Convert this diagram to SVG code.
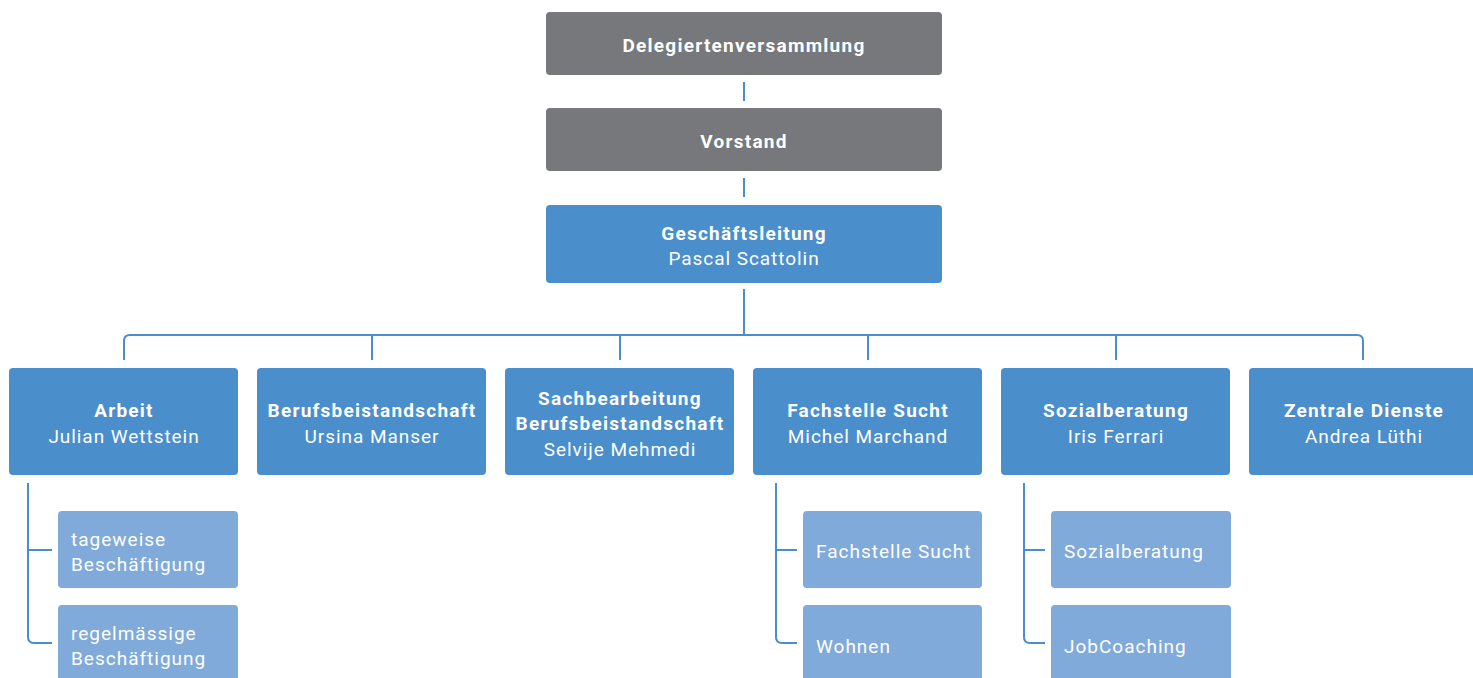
<svg xmlns="http://www.w3.org/2000/svg" width="1473" height="678" viewBox="0 0 1473 678">
<style>
.gray{fill:#77787b}
.blue{fill:#4a8ecb}
.light{fill:#80aada}
.t{font-family:Roboto,"Liberation Sans",sans-serif;fill:#fff;font-size:19px;letter-spacing:1.25px}
.b{font-weight:bold}
.c{text-anchor:middle}
.r{font-weight:normal;letter-spacing:0.95px}
.s{letter-spacing:1px}
.ln{fill:none;stroke:#4a8ecb;stroke-width:2}
</style>
<rect width="1473" height="678" fill="#fff"/>
<g id="connectors" class="ln">
<line x1="744" y1="82" x2="744" y2="101"/>
<line x1="744" y1="178" x2="744" y2="197"/>
<line x1="744" y1="289" x2="744" y2="335"/>
<path d="M124 360 V341 Q124 335 130 335 H1357 Q1363 335 1363 341 V360"/>
<line x1="372" y1="335" x2="372" y2="360"/>
<line x1="620" y1="335" x2="620" y2="360"/>
<line x1="868" y1="335" x2="868" y2="360"/>
<line x1="1116" y1="335" x2="1116" y2="360"/>
<path d="M28 483 V637 Q28 643 34 643 H52 M28 550 H52"/>
<path d="M776 483 V637 Q776 643 782 643 H797 M776 550 H797"/>
<path d="M1024 483 V637 Q1024 643 1030 643 H1045 M1024 550 H1045"/>
</g>
<g id="delegiertenversammlung">
<rect class="gray" x="546" y="12" width="396" height="63" rx="4"/>
<text class="t b c" x="744" y="52">Delegiertenversammlung</text>
</g>
<g id="vorstand">
<rect class="gray" x="546" y="108" width="396" height="63" rx="4"/>
<text class="t b c" x="744" y="148">Vorstand</text>
</g>
<g id="geschaeftsleitung">
<rect class="blue" x="546" y="205" width="396" height="78" rx="4"/>
<text class="t b c" x="744" y="240">Geschäftsleitung</text>
<text class="t r c" x="744" y="265">Pascal Scattolin</text>
</g>
<g id="arbeit">
<rect class="blue" x="9" y="368" width="229" height="107" rx="4"/>
<text class="t b c" x="124" y="417">Arbeit</text>
<text class="t r c" x="124" y="443">Julian Wettstein</text>
</g>
<g id="berufsbeistandschaft">
<rect class="blue" x="257" y="368" width="229" height="107" rx="4"/>
<text class="t b c" x="372" y="417">Berufsbeistandschaft</text>
<text class="t r c" x="372" y="443">Ursina Manser</text>
</g>
<g id="sachbearbeitung">
<rect class="blue" x="505" y="368" width="229" height="107" rx="4"/>
<text class="t b c" x="620" y="405">Sachbearbeitung</text>
<text class="t b c" x="620" y="430">Berufsbeistandschaft</text>
<text class="t r c" x="620" y="456">Selvije Mehmedi</text>
</g>
<g id="fachstelle-sucht">
<rect class="blue" x="753" y="368" width="229" height="107" rx="4"/>
<text class="t b c" x="868" y="417">Fachstelle Sucht</text>
<text class="t r c" x="868" y="443">Michel Marchand</text>
</g>
<g id="sozialberatung">
<rect class="blue" x="1001" y="368" width="229" height="107" rx="4"/>
<text class="t b c" x="1116" y="417">Sozialberatung</text>
<text class="t r c" x="1116" y="443">Iris Ferrari</text>
</g>
<g id="zentrale-dienste">
<rect class="blue" x="1249" y="368" width="229" height="107" rx="4"/>
<text class="t b c" x="1364" y="417">Zentrale Dienste</text>
<text class="t r c" x="1364" y="443">Andrea Lüthi</text>
</g>
<g id="tageweise">
<rect class="light" x="58" y="511" width="180" height="77" rx="4"/>
<text class="t s" x="71" y="546">tageweise</text>
<text class="t s" x="71" y="571">Beschäftigung</text>
</g>
<g id="regelmaessige">
<rect class="light" x="58" y="605" width="180" height="80" rx="4"/>
<text class="t s" x="71" y="640">regelmässige</text>
<text class="t s" x="71" y="665">Beschäftigung</text>
</g>
<g id="sub-fachstelle-sucht">
<rect class="light" x="803" y="511" width="179" height="77" rx="4"/>
<text class="t s" x="816" y="558">Fachstelle Sucht</text>
</g>
<g id="wohnen">
<rect class="light" x="803" y="605" width="179" height="80" rx="4"/>
<text class="t s" x="816" y="653">Wohnen</text>
</g>
<g id="sub-sozialberatung">
<rect class="light" x="1051" y="511" width="180" height="77" rx="4"/>
<text class="t s" x="1064" y="558">Sozialberatung</text>
</g>
<g id="jobcoaching">
<rect class="light" x="1051" y="605" width="180" height="80" rx="4"/>
<text class="t s" x="1064" y="653">JobCoaching</text>
</g>
</svg>
